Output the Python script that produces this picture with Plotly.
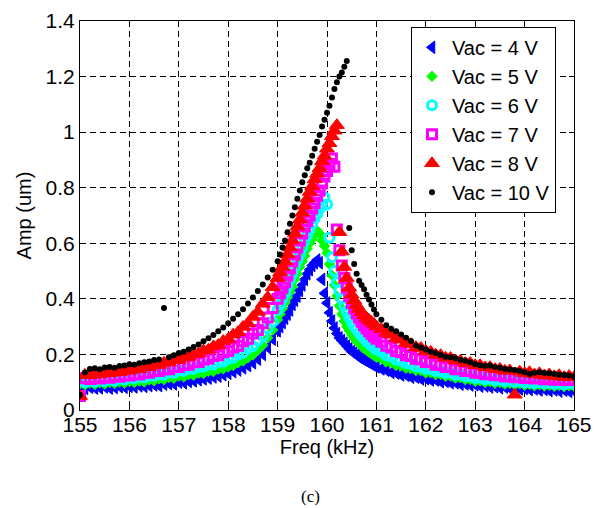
import plotly.graph_objects as go

freq_low = [155.0, 155.1, 155.2, 155.3, 155.4, 155.5, 155.6, 155.7, 155.8, 155.9,
            156.0, 156.1, 156.2, 156.3, 156.4, 156.5, 156.6, 156.7, 156.8, 156.9,
            157.0, 157.1, 157.2, 157.3, 157.4, 157.5, 157.6, 157.7, 157.8, 157.9,
            158.0, 158.1, 158.2, 158.3, 158.4, 158.5, 158.6, 158.7, 158.8, 158.9]
freq_mid = [159.0, 159.05, 159.1, 159.15, 159.2, 159.25, 159.3, 159.35, 159.4, 159.45,
            159.5, 159.55, 159.6, 159.65, 159.7, 159.75, 159.8, 159.85, 159.9, 159.95,
            160.0, 160.05, 160.1, 160.15, 160.2, 160.25, 160.3, 160.35, 160.4, 160.45,
            160.5, 160.55, 160.6, 160.65, 160.7, 160.75, 160.8, 160.85, 160.9, 160.95]
freq_high = [161.0, 161.1, 161.2, 161.3, 161.4, 161.5, 161.6, 161.7, 161.8, 161.9,
             162.0, 162.1, 162.2, 162.3, 162.4, 162.5, 162.6, 162.7, 162.8, 162.9,
             163.0, 163.1, 163.2, 163.3, 163.4, 163.5, 163.6, 163.7, 163.8, 163.9,
             164.0, 164.1, 164.2, 164.3, 164.4, 164.5, 164.6, 164.7, 164.8, 164.9,
             165.0]
freq = freq_low + freq_mid + freq_high

amp_4V = [0.085, 0.078, 0.082, 0.079, 0.080, 0.083, 0.079, 0.081, 0.084, 0.082,
          0.085, 0.083, 0.087, 0.085, 0.088, 0.090, 0.088, 0.093, 0.095, 0.094,
          0.100, 0.098, 0.103, 0.105, 0.109, 0.112, 0.115, 0.119, 0.122, 0.127,
          0.132, 0.138, 0.144, 0.152, 0.160, 0.170, 0.183, 0.200, 0.225, 0.255,
          0.285, 0.300, 0.315, 0.330, 0.345, 0.360, 0.380, 0.395, 0.410, 0.430,
          0.450, 0.470, 0.490, 0.505, 0.520, 0.530, 0.540, 0.530, 0.470, 0.420,
          0.385, 0.350, 0.320, 0.295, 0.275, 0.260, 0.250, 0.240, 0.230, 0.220,
          0.210, 0.205, 0.197, 0.190, 0.185, 0.180, 0.175, 0.170, 0.165, 0.160,
          0.155, 0.148, 0.143, 0.135, 0.133, 0.126, 0.125, 0.118, 0.118, 0.112,
          0.113, 0.108, 0.108, 0.102, 0.103, 0.098, 0.098, 0.093, 0.094, 0.090,
          0.091, 0.086, 0.087, 0.083, 0.084, 0.080, 0.082, 0.078, 0.080, 0.076,
          0.078, 0.074, 0.076, 0.072, 0.074, 0.070, 0.072, 0.068, 0.071, 0.067,
          0.068]

amp_5V = [0.095, 0.090, 0.097, 0.092, 0.098, 0.093, 0.099, 0.095, 0.101, 0.097,
          0.102, 0.099, 0.104, 0.101, 0.108, 0.105, 0.112, 0.109, 0.117, 0.114,
          0.122, 0.119, 0.127, 0.125, 0.133, 0.131, 0.139, 0.138, 0.147, 0.148,
          0.155, 0.160, 0.170, 0.176, 0.188, 0.198, 0.215, 0.233, 0.260, 0.288,
          0.325, 0.345, 0.365, 0.385, 0.405, 0.425, 0.445, 0.470, 0.490, 0.515,
          0.535, 0.555, 0.580, 0.600, 0.615, 0.630, 0.645, 0.635, 0.610, 0.590,
          0.565, 0.525, 0.485, 0.450, 0.410, 0.375, 0.345, 0.320, 0.300, 0.285,
          0.270, 0.258, 0.248, 0.238, 0.230, 0.222, 0.215, 0.208, 0.202, 0.196,
          0.190, 0.184, 0.173, 0.170, 0.160, 0.159, 0.150, 0.150, 0.142, 0.142,
          0.133, 0.134, 0.127, 0.128, 0.121, 0.122, 0.115, 0.116, 0.109, 0.110,
          0.103, 0.105, 0.099, 0.102, 0.096, 0.099, 0.093, 0.096, 0.091, 0.094,
          0.089, 0.092, 0.087, 0.091, 0.086, 0.089, 0.085, 0.088, 0.084, 0.087,
          0.085]

amp_6V = [0.105, 0.100, 0.108, 0.102, 0.109, 0.104, 0.111, 0.106, 0.113, 0.110,
          0.117, 0.114, 0.120, 0.118, 0.124, 0.123, 0.129, 0.128, 0.135, 0.134,
          0.142, 0.141, 0.148, 0.148, 0.156, 0.156, 0.164, 0.164, 0.173, 0.174,
          0.184, 0.188, 0.200, 0.206, 0.221, 0.230, 0.250, 0.266, 0.294, 0.318,
          0.360, 0.380, 0.400, 0.420, 0.445, 0.470, 0.490, 0.515, 0.540, 0.560,
          0.585, 0.610, 0.630, 0.650, 0.670, 0.690, 0.705, 0.725, 0.740, 0.765,
          0.740, 0.620, 0.550, 0.500, 0.460, 0.430, 0.400, 0.375, 0.355, 0.335,
          0.318, 0.302, 0.290, 0.278, 0.267, 0.257, 0.248, 0.240, 0.232, 0.225,
          0.218, 0.210, 0.197, 0.192, 0.181, 0.178, 0.168, 0.166, 0.157, 0.156,
          0.148, 0.148, 0.140, 0.140, 0.133, 0.134, 0.127, 0.128, 0.121, 0.122,
          0.115, 0.117, 0.111, 0.113, 0.107, 0.110, 0.104, 0.107, 0.102, 0.105,
          0.099, 0.102, 0.097, 0.100, 0.096, 0.099, 0.094, 0.098, 0.093, 0.097,
          0.094]

amp_7V = [0.050, 0.114, 0.112, 0.117, 0.113, 0.119, 0.116, 0.122, 0.120, 0.125,
          0.124, 0.130, 0.128, 0.135, 0.134, 0.141, 0.140, 0.147, 0.147, 0.155,
          0.155, 0.163, 0.163, 0.172, 0.173, 0.182, 0.184, 0.194, 0.197, 0.208,
          0.212, 0.225, 0.231, 0.247, 0.256, 0.275, 0.288, 0.312, 0.333, 0.367,
          0.400, 0.420, 0.440, 0.460, 0.485, 0.510, 0.535, 0.560, 0.585, 0.610,
          0.635, 0.660, 0.680, 0.700, 0.725, 0.745, 0.770, 0.790, 0.815, 0.840,
          0.860, 0.885, 0.905, 0.875, 0.650, 0.575, 0.520, 0.475, 0.440, 0.410,
          0.385, 0.365, 0.347, 0.332, 0.318, 0.305, 0.294, 0.283, 0.274, 0.265,
          0.256, 0.246, 0.231, 0.225, 0.212, 0.208, 0.197, 0.194, 0.184, 0.182,
          0.173, 0.172, 0.163, 0.163, 0.155, 0.155, 0.147, 0.148, 0.140, 0.141,
          0.134, 0.135, 0.129, 0.131, 0.125, 0.127, 0.121, 0.123, 0.118, 0.120,
          0.115, 0.118, 0.113, 0.116, 0.111, 0.114, 0.109, 0.112, 0.108, 0.111,
          0.108]

amp_8V = [0.050, 0.126, 0.125, 0.129, 0.128, 0.133, 0.132, 0.137, 0.136, 0.142,
          0.141, 0.148, 0.147, 0.154, 0.154, 0.162, 0.162, 0.170, 0.171, 0.179,
          0.180, 0.189, 0.191, 0.201, 0.203, 0.214, 0.217, 0.229, 0.234, 0.248,
          0.255, 0.271, 0.280, 0.299, 0.312, 0.335, 0.353, 0.382, 0.406, 0.442,
          0.475, 0.495, 0.515, 0.535, 0.560, 0.585, 0.610, 0.635, 0.660, 0.685,
          0.710, 0.735, 0.760, 0.785, 0.805, 0.830, 0.850, 0.870, 0.895, 0.915,
          0.940, 0.960, 0.985, 1.005, 1.025, 0.640, 0.570, 0.515, 0.475, 0.440,
          0.415, 0.395, 0.378, 0.364, 0.352, 0.341, 0.332, 0.324, 0.317, 0.310,
          0.300, 0.291, 0.277, 0.271, 0.258, 0.253, 0.241, 0.237, 0.226, 0.223,
          0.212, 0.209, 0.199, 0.197, 0.188, 0.187, 0.178, 0.177, 0.169, 0.169,
          0.161, 0.161, 0.153, 0.154, 0.147, 0.148, 0.141, 0.142, 0.055, 0.138,
          0.132, 0.136, 0.128, 0.132, 0.124, 0.128, 0.121, 0.125, 0.118, 0.122,
          0.118]

amp_10V = [0.054, 0.135, 0.148, 0.150, 0.147, 0.153, 0.155, 0.152, 0.158, 0.160,
           0.165, 0.163, 0.168, 0.172, 0.175, 0.180, 0.182, 0.367, 0.190, 0.197,
           0.205, 0.210, 0.218, 0.227, 0.236, 0.247, 0.258, 0.270, 0.283, 0.297,
           0.312, 0.328, 0.345, 0.363, 0.383, 0.405, 0.428, 0.452, 0.477, 0.505,
           0.535, 0.560, 0.585, 0.610, 0.640, 0.670, 0.700, 0.730, 0.760, 0.790,
           0.820, 0.845, 0.870, 0.890, 0.915, 0.940, 0.965, 0.990, 1.020, 1.045,
           1.070, 1.095, 1.125, 1.155, 1.180, 1.200, 1.215, 1.235, 1.256, 0.655,
           0.575, 0.525, 0.490, 0.465, 0.450, 0.435, 0.415, 0.398, 0.380, 0.362,
           0.345, 0.325, 0.305, 0.292, 0.283, 0.272, 0.260, 0.248, 0.232, 0.225,
           0.218, 0.210, 0.205, 0.198, 0.192, 0.190, 0.186, 0.180, 0.177, 0.172,
           0.165, 0.161, 0.158, 0.160, 0.155, 0.152, 0.148, 0.146, 0.144, 0.140,
           0.136, 0.130, 0.134, 0.136, 0.133, 0.132, 0.130, 0.127, 0.126, 0.124,
           0.120]

labels = ["Vac = 4 V", "Vac = 5 V", "Vac = 6 V", "Vac = 7 V", "Vac = 8 V", "Vac = 10 V"]
series = [amp_4V, amp_5V, amp_6V, amp_7V, amp_8V, amp_10V]
colors = ["#0000FF", "#00FF00", "#00FFFF", "#FF00FF", "#FF0000", "#000000"]
symbols = ["triangle-left", "diamond", "circle-open", "square-open", "triangle-up", "circle"]
sizes = [11, 8, 9, 9, 13, 6]
lwidths = [1, 1, 3, 3, 1, 0]

fig = go.Figure()
for lab, ys, col, sym, sz, lw in zip(labels, series, colors, symbols, sizes, lwidths):
    fig.add_trace(go.Scatter(
        x=freq, y=ys, mode="markers", name=lab,
        marker=dict(symbol=sym, size=sz, color=col, line=dict(color=col, width=lw)),
    ))

axis_common = dict(
    showline=True, linecolor="black", linewidth=1, mirror="ticks",
    ticks="inside", ticklen=5, tickcolor="black",
    showgrid=True, gridcolor="black", gridwidth=1, griddash="6px,4px",
    zeroline=False, tickfont=dict(size=21, color="black"), automargin=False,
)

fig.update_xaxes(range=[155, 165], tick0=155, dtick=1, ticklabelstandoff=-4,
                 title=dict(text="Freq (kHz)", font=dict(size=20), standoff=3),
                 **axis_common)
fig.update_yaxes(range=[0, 1.4], tick0=0, dtick=0.2,
                 title=dict(text="Amp (um)", font=dict(size=20), standoff=8),
                 **axis_common)

fig.add_annotation(text="(c)", xref="paper", yref="paper", x=0.466, y=-0.222,
                   showarrow=False, xanchor="center", yanchor="middle",
                   font=dict(family="Liberation Serif, Times New Roman, serif", size=17, color="black"))

fig.update_layout(
    width=594, height=500,
    margin=dict(l=72, r=28, t=13, b=98),
    plot_bgcolor="white", paper_bgcolor="white",
    font=dict(family="Liberation Sans, Arial, sans-serif", size=21, color="black"),
    legend=dict(x=0.67, y=0.985, xanchor="left", yanchor="top",
                bgcolor="white", bordercolor="black", borderwidth=1,
                font=dict(size=20)),
)

fig.write_html("out.html")
